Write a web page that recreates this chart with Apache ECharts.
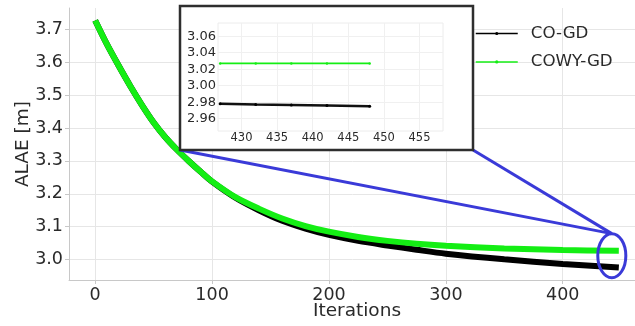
<!DOCTYPE html>
<html>
<head>
<meta charset="utf-8">
<script src="https://cdn.jsdelivr.net/npm/echarts@6/dist/echarts.min.js"></script>
<style>
  html, body { margin: 0; padding: 0; background: #fff; }
  #chart { width: 635px; height: 326px; }
</style>
</head>
<body>
<div id="chart"></div>
<script>
// Sampled iterations of the optimisation run
const iterations = [0, 10, 20, 30, 40, 50, 60, 70, 80, 90, 100, 120, 140, 160, 180, 200, 225, 250, 275, 300, 350, 400, 448];
// ALAE [m] per sampled iteration
const coGD   = [3.727, 3.655, 3.590, 3.528, 3.470, 3.417, 3.372, 3.334, 3.300, 3.268, 3.237, 3.188, 3.150, 3.118, 3.094, 3.075, 3.057, 3.043, 3.030, 3.018, 3.001, 2.987, 2.976];
const cowyGD = [3.727, 3.655, 3.590, 3.528, 3.470, 3.417, 3.372, 3.334, 3.300, 3.268, 3.238, 3.190, 3.155, 3.125, 3.102, 3.085, 3.069, 3.057, 3.048, 3.042, 3.034, 3.029, 3.027];

// Last iterations, shown enlarged in the inset
const insetIterations = [427, 432, 437, 442, 448];
const insetCoGD   = [2.978, 2.977, 2.9765, 2.976, 2.975];
const insetCowyGD = [3.027, 3.027, 3.027, 3.027, 3.027];

const seriesNames = ['CO-GD', 'COWY-GD'];
const xTicks = [0, 100, 200, 300, 400];
const yTicks = [3.0, 3.1, 3.2, 3.3, 3.4, 3.5, 3.6, 3.7];
const insetXTicks = [430, 435, 440, 445, 450, 455];
const insetYTicks = [2.96, 2.98, 3.00, 3.02, 3.04, 3.06];

// Region of the main plot that the inset enlarges (data units)
const zoomCenter = [442, 3.012];
const zoomRadius = [12, 0.067];

const FONT = 'DejaVu Sans';
const TXT = '#2a2a2a';
const GREEN = '#14ee14';
const BLUE = '#3a3ad8';
const GRIDLINE = '#e6e6e6';

const pairs = (xs, ys) => xs.map((x, i) => [x, ys[i]]);

const chart = echarts.init(document.getElementById('chart'), null, { renderer: 'canvas' });

const option = {
  animation: false,
  backgroundColor: '#fff',
  textStyle: { fontFamily: FONT },
  grid: [
    { left: 69, right: -10, top: 8, height: 272, show: false,
      containLabel: false, outerBoundsMode: 'none' },
    { left: 218, top: 23, width: 225, height: 108, show: true, z: 6,
      containLabel: false, outerBoundsMode: 'none',
      backgroundColor: '#fff', borderColor: '#ececec', borderWidth: 1 }
  ],
  legend: {
    orient: 'vertical',
    left: 475, top: 25, padding: 0,
    itemWidth: 42, itemHeight: 4, itemGap: 11.4,
    data: seriesNames,
    textStyle: { fontFamily: FONT, fontSize: 16.7, color: TXT, lineHeight: 17, padding: [0, 0, 0, 8] },
    lineStyle: { width: 1.5 },
    z: 7
  },
  xAxis: [
    {
      type: 'value', gridIndex: 0, min: -22.4, max: 470.4,
      name: 'Iterations', nameLocation: 'middle', nameGap: 22, nameMoveOverlap: false,
      nameTextStyle: { fontFamily: FONT, fontSize: 18.5, color: TXT },
      axisLine: { show: true, onZero: false, lineStyle: { color: '#c8c8c8', width: 1 } },
      axisTick: { show: true, length: 4, customValues: xTicks, lineStyle: { color: '#c8c8c8' } },
      axisLabel: { customValues: xTicks, fontFamily: FONT, fontSize: 17.5, color: TXT, margin: 6 },
      splitLine: { show: true, lineStyle: { color: GRIDLINE, width: 1 } }
    },
    {
      type: 'value', gridIndex: 1, min: 426.7, max: 458.3, z: 6,
      axisLine: { show: false },
      axisTick: { show: false, customValues: insetXTicks },
      axisLabel: { customValues: insetXTicks, fontFamily: FONT, fontSize: 11.5, color: TXT, margin: 1 },
      splitLine: { show: true, lineStyle: { color: '#f0f0f0', width: 1 } }
    }
  ],
  yAxis: [
    {
      type: 'value', gridIndex: 0, min: 2.938, max: 3.765,
      name: 'ALAE [m]', nameLocation: 'middle', nameGap: 36, nameMoveOverlap: false,
      nameTextStyle: { fontFamily: FONT, fontSize: 18.5, color: TXT },
      axisLine: { show: true, onZero: false, lineStyle: { color: '#c8c8c8', width: 1 } },
      axisTick: { show: true, length: 4, customValues: yTicks, lineStyle: { color: '#c8c8c8' } },
      axisLabel: { customValues: yTicks, fontFamily: FONT, fontSize: 17.5, color: TXT, margin: 6,
                   formatter: v => v.toFixed(1) },
      splitLine: { show: true, lineStyle: { color: GRIDLINE, width: 1 } }
    },
    {
      type: 'value', gridIndex: 1, min: 2.945, max: 3.076, z: 6,
      axisLine: { show: false },
      axisTick: { show: false, customValues: insetYTicks },
      axisLabel: { customValues: insetYTicks, fontFamily: FONT, fontSize: 13, color: TXT, margin: 2,
                   formatter: v => v.toFixed(2) },
      splitLine: { show: true, lineStyle: { color: '#f0f0f0', width: 1 } }
    }
  ],
  series: [
    {
      name: seriesNames[0], type: 'line', xAxisIndex: 0, yAxisIndex: 0,
      data: pairs(iterations, coGD), smooth: 0.3,
      symbol: 'circle', showSymbol: false, color: '#000',
      lineStyle: { color: '#000', width: 6 }, z: 2
    },
    {
      name: seriesNames[1], type: 'line', xAxisIndex: 0, yAxisIndex: 0,
      data: pairs(iterations, cowyGD), smooth: 0.3,
      symbol: 'circle', showSymbol: false, color: GREEN,
      lineStyle: { color: GREEN, width: 6 }, z: 3
    },
    {
      name: seriesNames[0], type: 'line', xAxisIndex: 1, yAxisIndex: 1,
      data: pairs(insetIterations, insetCoGD),
      symbol: 'circle', symbolSize: 3, showSymbol: true, color: '#000',
      lineStyle: { color: '#111', width: 2.5 }, z: 7
    },
    {
      name: seriesNames[1], type: 'line', xAxisIndex: 1, yAxisIndex: 1,
      data: pairs(insetIterations, insetCowyGD),
      symbol: 'circle', symbolSize: 2.5, showSymbol: true, color: GREEN,
      lineStyle: { color: GREEN, width: 1.8 }, z: 7
    }
  ]
};

chart.setOption(option);

// Inset frame, zoom ellipse and connector lines
const insetBox = { x: 180, y: 6, w: 293, h: 144 };
const zc = chart.convertToPixel({ gridIndex: 0 }, zoomCenter);
const ze = chart.convertToPixel({ gridIndex: 0 }, [zoomCenter[0] + zoomRadius[0], zoomCenter[1] + zoomRadius[1]]);
const zrx = Math.abs(ze[0] - zc[0]);
const zry = Math.abs(zc[1] - ze[1]);
const zTop = [zc[0], zc[1] - zry];

chart.setOption({
  graphic: [
    { type: 'rect', z: 5, shape: { x: insetBox.x, y: insetBox.y, width: insetBox.w, height: insetBox.h },
      style: { fill: '#fff', stroke: '#2e2e2e', lineWidth: 2.5 } },
    { type: 'line', z: 4, shape: { x1: insetBox.x, y1: insetBox.y + insetBox.h, x2: zTop[0], y2: zTop[1] },
      style: { stroke: BLUE, lineWidth: 3 } },
    { type: 'line', z: 4, shape: { x1: insetBox.x + insetBox.w, y1: insetBox.y + insetBox.h, x2: zTop[0], y2: zTop[1] },
      style: { stroke: BLUE, lineWidth: 3 } },
    { type: 'ellipse', z: 4, shape: { cx: zc[0], cy: zc[1], rx: zrx, ry: zry },
      style: { fill: null, stroke: BLUE, lineWidth: 3 } }
  ]
});
</script>
</body>
</html>
